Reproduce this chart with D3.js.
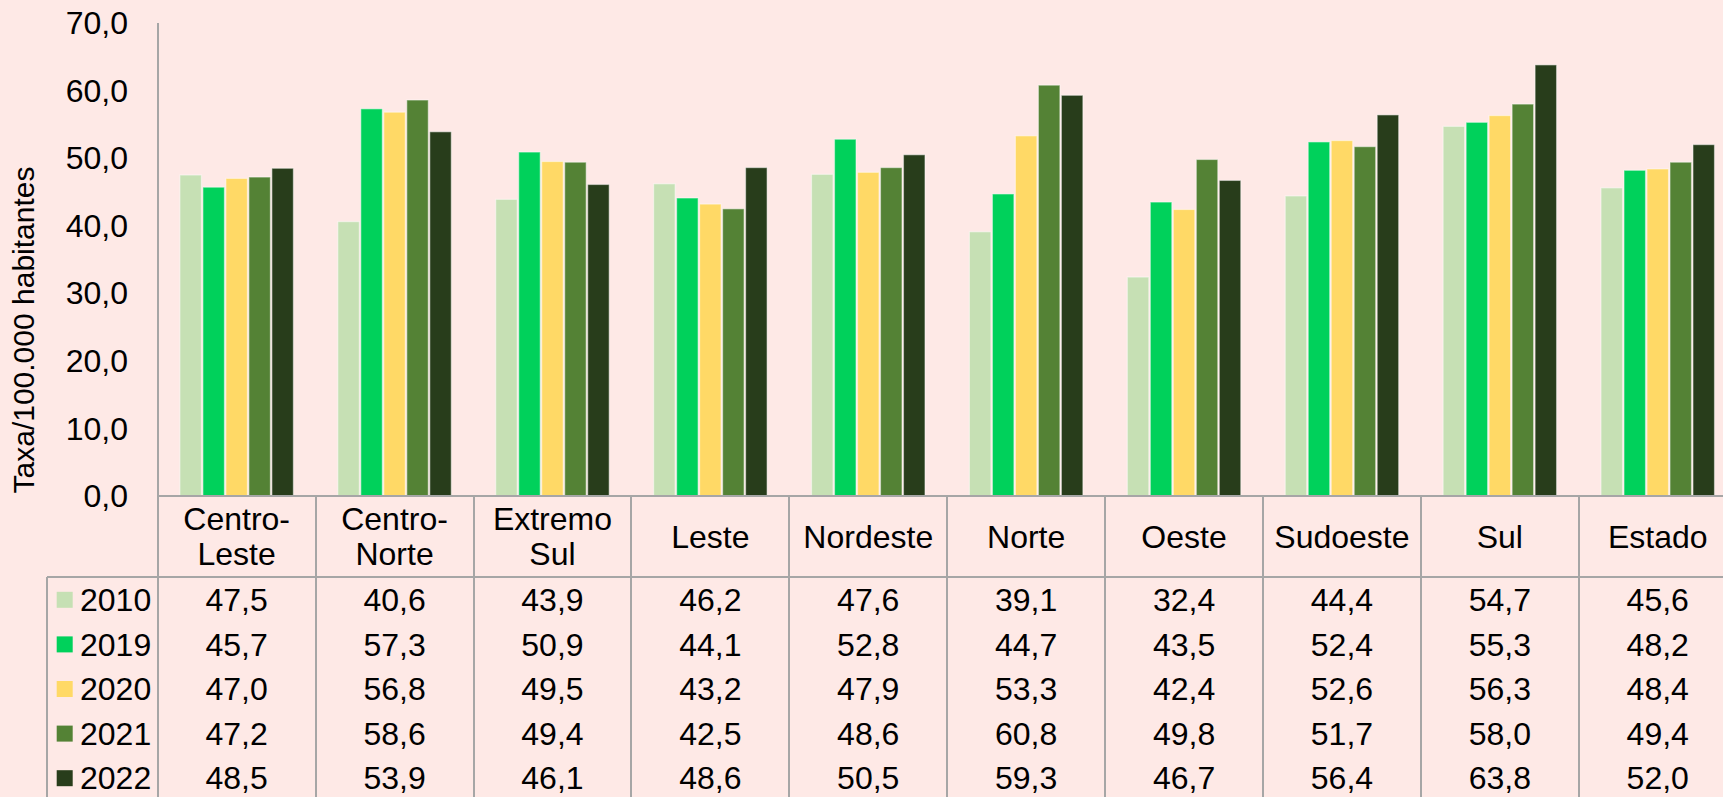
<!DOCTYPE html>
<html>
<head>
<meta charset="utf-8" />
<script src="https://d3js.org/d3.v7.min.js"></script>
<style>
    body { margin: 0; background: #fee9e6; overflow: hidden; }
    svg text { font-family: Arial, "Liberation Sans", sans-serif; fill: #000; }
    .grid { stroke: #a6a6a6; stroke-width: 2px; shape-rendering: crispEdges; }
</style>
</head>
<body>
<svg id="chart" width="1723" height="797"></svg>
<script>
// regions (header lines split by "\n")
const regions = ["Centro-\nLeste", "Centro-\nNorte", "Extremo\nSul", "Leste", "Nordeste",
    "Norte", "Oeste", "Sudoeste", "Sul", "Estado"];
const years = ["2010", "2019", "2020", "2021", "2022"];
const colors = ["#c6e0b4", "#00d15b", "#ffd966", "#548235", "#283d1b"];

const v2010 = [47.5, 40.6, 43.9, 46.2, 47.6, 39.1, 32.4, 44.4, 54.7, 45.6];
const v2019 = [45.7, 57.3, 50.9, 44.1, 52.8, 44.7, 43.5, 52.4, 55.3, 48.2];
const v2020 = [47.0, 56.8, 49.5, 43.2, 47.9, 53.3, 42.4, 52.6, 56.3, 48.4];
const v2021 = [47.2, 58.6, 49.4, 42.5, 48.6, 60.8, 49.8, 51.7, 58.0, 49.4];
const v2022 = [48.5, 53.9, 46.1, 48.6, 50.5, 59.3, 46.7, 56.4, 63.8, 52.0];
const series = [v2010, v2019, v2020, v2021, v2022];

const yTicks = [0, 10, 20, 30, 40, 50, 60, 70];

const svg = d3.select("#chart");
const left = 157.7, step = 157.9;
const right = left + step * regions.length;   // runs past the window edge, like the original
const plotTop = 23, base = 496, headBottom = 577, rowH = 44.6, legendLeft = 46.7;
const fs = 32;

const loc = d3.formatLocale({ decimal: ",", thousands: ".", grouping: [3], currency: ["", ""] });
const fmt = loc.format(".1f");

const x = d3.scaleBand().domain(d3.range(regions.length)).range([left, right])
    .paddingInner(0.272).paddingOuter(0.136);
const xi = d3.scaleBand().domain(years).range([0, x.bandwidth()]);
const y = d3.scaleLinear().domain([0, 70]).range([base, plotTop]);

// bars
const groups = svg.append("g").selectAll("g")
    .data(regions.map((r, i) => i))
    .join("g")
    .attr("transform", i => `translate(${x(i)},0)`);

groups.selectAll("rect")
    .data(i => years.map((yr, k) => ({ yr, k, v: series[k][i] })))
    .join("rect")
    .attr("x", d => xi(d.yr) + 0.75)
    .attr("width", xi.bandwidth() - 1.5)
    .attr("y", d => y(d.v))
    .attr("height", d => base - y(d.v))
    .attr("fill", d => colors[d.k])
    .attr("stroke", "rgba(255,255,255,0.45)")
    .attr("stroke-width", 1.2);

// y axis labels
svg.append("g").selectAll("text")
    .data(yTicks)
    .join("text")
    .attr("x", 128)
    .attr("y", d => y(d))
    .attr("dy", "0.35em")
    .attr("text-anchor", "end")
    .style("font-size", fs + "px")
    .text(d => fmt(d));

svg.append("text")
    .attr("transform", `translate(23,330) rotate(-90)`)
    .attr("text-anchor", "middle")
    .attr("dy", "0.35em")
    .style("font-size", "30px")
    .text("Taxa/100.000 habitantes");

// table lines
const lines = svg.append("g");
lines.append("line").attr("class", "grid")
    .attr("x1", left).attr("x2", left).attr("y1", plotTop).attr("y2", 797);
lines.append("line").attr("class", "grid")
    .attr("x1", left).attr("x2", right).attr("y1", base).attr("y2", base);
lines.append("line").attr("class", "grid")
    .attr("x1", legendLeft).attr("x2", right).attr("y1", headBottom).attr("y2", headBottom);
lines.append("line").attr("class", "grid")
    .attr("x1", legendLeft).attr("x2", legendLeft).attr("y1", headBottom).attr("y2", 797);
lines.selectAll(".col")
    .data(d3.range(1, regions.length + 1))
    .join("line").attr("class", "grid col")
    .attr("x1", i => left + step * i).attr("x2", i => left + step * i)
    .attr("y1", base).attr("y2", 797);

// header labels
const headMid = (base + headBottom) / 2;
svg.append("g").selectAll("text")
    .data(regions)
    .join("text")
    .attr("x", (r, i) => x(i) + x.bandwidth() / 2)
    .attr("text-anchor", "middle")
    .style("font-size", fs + "px")
    .each(function (r) {
        const parts = r.split("\n");
        const t = d3.select(this);
        parts.forEach((p, j) => {
            t.append("tspan")
                .attr("x", t.attr("x"))
                .attr("y", headMid + (j - (parts.length - 1) / 2) * 35)
                .attr("dy", "0.35em")
                .text(p);
        });
    });

// legend column + values
const rows = svg.append("g").selectAll("g")
    .data(years)
    .join("g")
    .attr("transform", (yr, k) => `translate(0,${headBottom + rowH / 2 + 0.5 + rowH * k})`);

rows.append("rect")
    .attr("x", 56.7).attr("y", -8).attr("width", 16).attr("height", 16)
    .attr("fill", (yr, k) => colors[k]);

rows.append("text")
    .attr("x", 80).attr("dy", "0.35em")
    .style("font-size", fs + "px")
    .text(yr => yr);

rows.selectAll(".val")
    .data((yr, k) => series[k])
    .join("text").attr("class", "val")
    .attr("x", (v, i) => x(i) + x.bandwidth() / 2)
    .attr("dy", "0.35em")
    .attr("text-anchor", "middle")
    .style("font-size", fs + "px")
    .text(v => fmt(v));
</script>
</body>
</html>
